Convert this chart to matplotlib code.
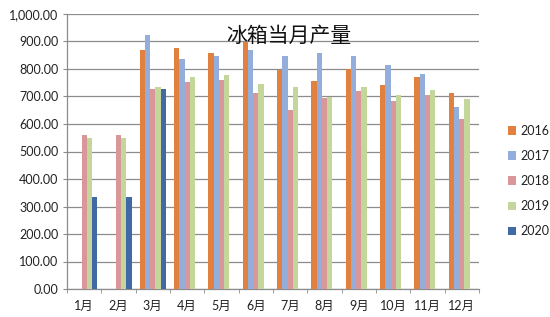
import numpy as np
import matplotlib
matplotlib.use('Agg')
import matplotlib.pyplot as plt
from matplotlib.ticker import FuncFormatter

plt.rcParams['font.family'] = ['Lato', 'Noto Sans CJK SC', 'DejaVu Sans']

months = ['1月', '2月', '3月', '4月', '5月', '6月', '7月', '8月', '9月', '10月', '11月', '12月']
years = ['2016', '2017', '2018', '2019', '2020']
nan = np.nan
# monthly fridge output
y2016 = [nan, nan, 868, 875, 858, 899, 796, 756, 801, 742, 770, 712]
y2017 = [nan, nan, 925, 835, 848, 870, 848, 857, 846, 813, 782, 662]
y2018 = [560, 560, 727, 751, 760, 711, 651, 693, 720, 684, 704, 618]
y2019 = [550, 550, 733, 770, 777, 744, 733, 699, 733, 704, 724, 691]
y2020 = [333, 333, 727, nan, nan, nan, nan, nan, nan, nan, nan, nan]
series = [y2016, y2017, y2018, y2019, y2020]
colors = ['#E2803F', '#93AEDB', '#DA979A', '#C4D79B', '#4069A6']

fig = plt.figure(figsize=(5.5, 3.17), dpi=100)
ax = fig.add_axes([67/550, 28/317, 412/550, 275/317])

x = np.arange(len(months))
w = 0.152
for i, (vals, c, lab) in enumerate(zip(series, colors, years)):
    ax.bar(x + (i - 2) * w, vals, width=w, color=c, label=lab, zorder=3)

ax.set_xlim(-0.5, 11.5)
ax.set_ylim(0, 1000)
ax.set_yticks(np.arange(0, 1001, 100))
ax.yaxis.set_major_formatter(FuncFormatter(lambda v, p: f'{v:,.2f}'))
ax.grid(axis='y', color='#8c8c8c', linewidth=0.9, zorder=0)

ax.set_xticks(x)
ax.set_xticklabels(months)
ax.set_xticks(np.arange(-0.5, 12, 1), minor=True)
ax.tick_params(axis='x', which='major', length=0, pad=8, labelsize=9, colors='#222222')
ax.tick_params(axis='x', which='minor', length=3, color='#8c8c8c')
ax.tick_params(axis='y', length=3, color='#8c8c8c', labelsize=9, labelcolor='#222222', pad=3)

for s in ['top', 'right']:
    ax.spines[s].set_visible(False)
for s in ['left', 'bottom']:
    ax.spines[s].set_color('#8c8c8c')
    ax.spines[s].set_linewidth(0.9)

ax.text(0.539, 0.922, '冰箱当月产量', transform=ax.transAxes, ha='center', va='center',
        fontsize=15, fontfamily=['Noto Sans CJK SC'], fontweight='medium',
        color='#111111', zorder=5)

fig.legend(loc='center left', bbox_to_anchor=(508/550, 1 - 181/317), frameon=False,
           borderpad=0, borderaxespad=0,
           handlelength=0.65, handleheight=0.65, handletextpad=0.35, labelspacing=1.05,
           fontsize=9, labelcolor='#222222')

fig.savefig('out.png', dpi=100)
